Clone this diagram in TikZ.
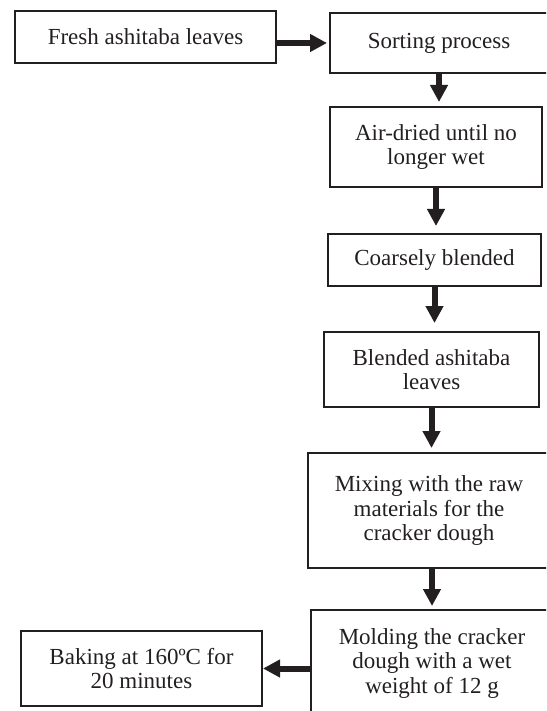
\documentclass[tikz,border=0pt]{standalone}
\usepackage{fontspec}
\setmainfont{Liberation Serif}
\usetikzlibrary{arrows.meta}
\definecolor{ink}{RGB}{35,31,32}
\begin{document}
\begin{tikzpicture}[x=0.5pt,y=-0.5pt,
  box/.style={draw=ink, text=ink, line width=1pt, rectangle, align=center, inner sep=0pt,
              font=\fontsize{11.5}{12.25}\selectfont},
  flow/.style={draw=ink, line width=3pt, -{Triangle[length=8.5pt,width=8.5pt]}}]
\useasboundingbox (0,0) rectangle (546,711);
\clip (0,0) rectangle (546,711);
\node[box, minimum width=130.5pt, minimum height=26pt] (fresh) at (145.5,37) {Fresh ashitaba leaves};
\node[box, minimum width=109pt, minimum height=30pt] (sorting) at (439,43) {Sorting process};
\node[box, minimum width=106pt, minimum height=40pt] (air) at (436,147) {Air-dried until no\\longer wet};
\node[box, minimum width=106.5pt, minimum height=26pt] (coarse) at (434.5,260) {Coarsely blended};
\node[box, minimum width=107.5pt, minimum height=37.5pt] (blended) at (431.5,369.5) {Blended ashitaba\\leaves};
\node[box, minimum width=121pt, minimum height=57.5pt] (mixing) at (429,510.5) {Mixing with the raw\\materials for the\\cracker dough};
\node[box, minimum width=121pt, minimum height=53pt] (molding) at (432,663) {Molding the cracker\\dough with a wet\\weight of 12 g};
\node[box, minimum width=120.5pt, minimum height=37.5pt] (baking) at (141.5,668.5) {Baking at 160ºC for\\20 minutes};
\draw[flow, shorten >=1pt] (fresh.east |- sorting.west) -- (sorting.west);
\draw[flow, shorten >=2pt] (sorting.south) -- (sorting.south |- air.north);
\draw[flow, shorten >=3.5pt] (air.south) -- (air.south |- coarse.north);
\draw[flow, shorten >=4pt] (coarse.south) -- (coarse.south |- blended.north);
\draw[flow, shorten >=2pt] (blended.south) -- (blended.south |- mixing.north);
\draw[flow, shorten >=1.5pt] (mixing.south -| molding.north) -- (molding.north);
\draw[flow] (molding.west |- baking.east) -- (baking.east);
\end{tikzpicture}
\end{document}
